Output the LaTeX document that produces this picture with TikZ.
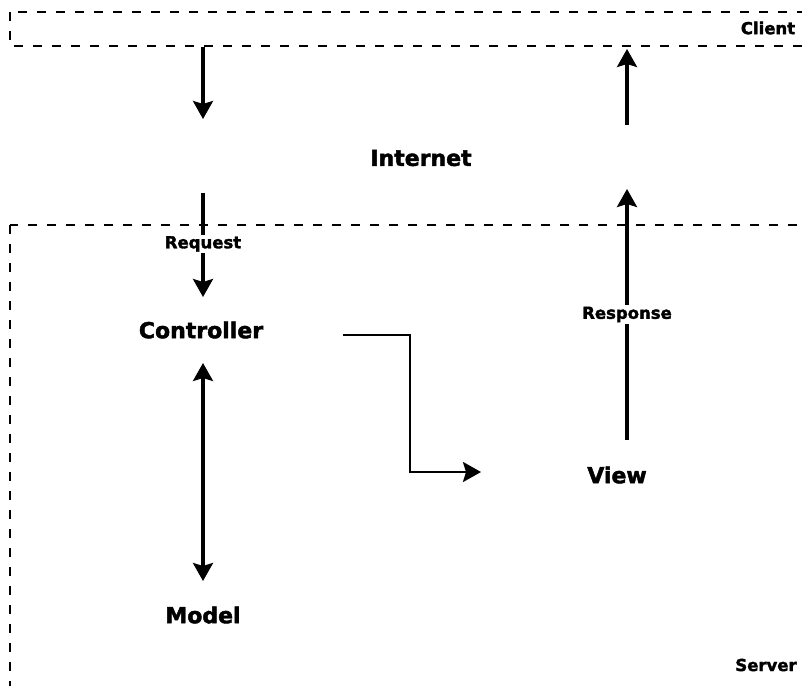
\documentclass[tikz,border=0pt]{standalone}
\usepackage{fontspec}
\setmainfont{DejaVu Sans}[BoldFeatures={FakeBold=2}]
\usetikzlibrary{arrows.meta}
\begin{document}
\begin{tikzpicture}[x=1pt,y=-1pt,
  big/.style={font=\bfseries\fontsize{22}{24}\selectfont, inner sep=2pt},
  small/.style={font=\bfseries\fontsize{16.5}{18}\selectfont, inner sep=1.5pt},
  zone/.style={line width=2.8pt, dash pattern=on 9pt off 10pt},
  tip/.tip={Stealth[length=18pt,width=20pt,inset=3pt]},
  conn/.style={line width=3.2pt, -tip},
  biconn/.style={line width=3.2pt, tip-tip},
  tag/.style={small, fill=white}]
\useasboundingbox (0,0) rectangle (802,685);

% client and server zones, running off the right and bottom edges
\begin{scope}
  \clip (0,0) rectangle (802,685);
  \draw[zone] (10,12) rectangle (830,46);
  \draw[zone] (10,225) rectangle (830,720);
\end{scope}

% labels
\node[small] (client) at (768,28) {Client};
\node[big] (internet) at (421,158) {Internet};
\node[big] (controller) at (201,330) {Controller};
\node[big] (view) at (617,475) {View};
\node[big] (model) at (203,615) {Model};
\node[small] (server) at (766,665) {Server};

% connector end points
\coordinate (reqstart) at (203,47);
\coordinate (reqinet) at (203,119);
\coordinate (inetout) at (203,193);
\coordinate (ctrlin) at (203,297);
\coordinate (ctrlmodel) at (203,363);
\coordinate (modeltop) at (203,581);
\coordinate (ctrlout) at (343,335);
\coordinate (bend) at (410,335);
\coordinate (viewin) at (481,472);
\coordinate (viewout) at (627,440);
\coordinate (inetin) at (627,189);
\coordinate (inetup) at (627,125);
\coordinate (clientin) at (627,49);

% request path
\draw[conn] (reqstart) -- (reqinet);
\draw[conn] (inetout) -- node[tag, pos=0.49] (request) {Request} (ctrlin);

% controller, model and view
\draw[biconn] (ctrlmodel) -- (modeltop);
\draw[conn, line width=2.6pt] (ctrlout) -- (bend) |- (viewin);

% response path
\draw[conn] (viewout) -- node[tag] (response) {Response} (inetin);
\draw[conn] (inetup) -- (clientin);
\end{tikzpicture}
\end{document}
